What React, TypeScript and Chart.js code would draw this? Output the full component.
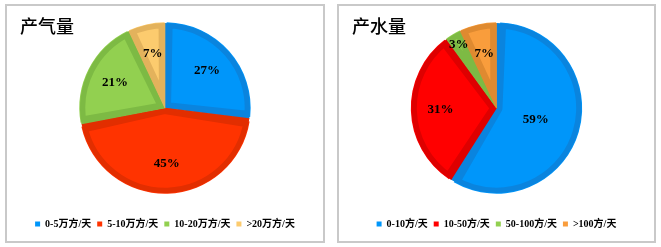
import React, { useEffect, useRef } from "react";
import { Chart, registerables } from "chart.js";

Chart.register(...registerables);

// ---- data ----
const gasTitle = "产气量";
const gasLabels = ["0-5万方/天", "5-10万方/天", "10-20万方/天", ">20万方/天"];
const gasValues = [27, 45, 21, 7];
const gasColors = ["#0096FA", "#FF3300", "#92D050", "#FCCB6E"];
const gasRims = ["#0A84DE", "#E22E00", "#7DBA44", "#E3B25C"];

const waterTitle = "产水量";
const waterLabels = ["0-10方/天", "10-50方/天", "50-100方/天", ">100方/天"];
const waterValues = [59, 31, 3, 7];
const waterColors = ["#0096FA", "#FF0000", "#92D050", "#F99D3C"];
const waterRims = ["#0A84DE", "#DE0000", "#7DBA44", "#DF8A30"];

const SERIF = "'Liberation Serif', 'Times New Roman', 'Noto Sans CJK SC', serif";

const pctLabelPlugin = {
  id: "pctLabels",
  afterDatasetsDraw(chart: any) {
    const ctx = chart.ctx;
    const ds = chart.data.datasets[0];
    const total = ds.data.reduce((a: number, b: number) => a + b, 0);
    const meta = chart.getDatasetMeta(0);
    ctx.save();
    ctx.font = `bold 13px ${SERIF}`;
    ctx.fillStyle = "#000";
    ctx.textAlign = "center";
    ctx.textBaseline = "middle";
    meta.data.forEach((arc: any, i: number) => {
      const p = arc.getProps(["x", "y", "startAngle", "endAngle", "outerRadius"], true);
      const frac = ds.data[i] / total;
      let f = 0.66;
      if (frac > 0.5) f = 0.48;
      else if (frac < 0.05) f = 0.87;
      const mid = (p.startAngle + p.endAngle) / 2;
      const r = p.outerRadius * f;
      ctx.fillText(Math.round(frac * 100) + "%", p.x + Math.cos(mid) * r, p.y + Math.sin(mid) * r);
    });
    ctx.restore();
  },
};

function PiePanel(props: {
  title: string;
  labels: string[];
  values: number[];
  colors: string[];
  rims: string[];
  left: number;
  width: number;
}) {
  const ref = useRef<HTMLCanvasElement>(null);
  useEffect(() => {
    const chart = new Chart(ref.current!, {
      type: "pie",
      data: {
        labels: props.labels,
        datasets: [
          {
            data: props.values,
            backgroundColor: props.colors,
            borderColor: props.rims,
            borderWidth: 6,
            borderAlign: "inner",
            spacing: 2,
          } as any,
        ],
      },
      options: {
        animation: false,
        responsive: false,
        layout: { padding: { top: 16, bottom: 2, left: 0, right: 0 } },
        plugins: {
          tooltip: { enabled: false },
          legend: {
            position: "bottom",
            title: { display: true, text: "", font: { size: 1, lineHeight: 1 }, padding: { top: 18, bottom: 0 } },
            labels: {
              boxWidth: 5,
              boxHeight: 5,
              padding: 6,
              color: "#000",
              font: { family: SERIF, size: 10, weight: "bold" },
              generateLabels: (c: any) =>
                (Chart as any).overrides.pie.plugins.legend.labels
                  .generateLabels(c)
                  .map((l: any) => ({ ...l, lineWidth: 0, strokeStyle: l.fillStyle })),
            },
          },
        },
      } as any,
      plugins: [pctLabelPlugin],
    });
    return () => chart.destroy();
  }, []);
  return (
    <div
      style={{
        position: "absolute",
        left: props.left,
        top: 4,
        width: props.width,
        height: 239,
        boxSizing: "border-box",
        border: "2px solid #C9C9C9",
        background: "#fff",
      }}
    >
      <canvas ref={ref} width={props.width - 4} height={235} style={{ display: "block" }} />
      <div
        style={{
          position: "absolute",
          left: 13,
          top: 9,
          fontFamily: "'Noto Sans CJK SC', sans-serif",
          fontSize: 18,
          lineHeight: "20px",
          fontWeight: 500,
          color: "#000",
        }}
      >
        {props.title}
      </div>
    </div>
  );
}

export default function App() {
  return (
    <div style={{ position: "fixed", left: 0, top: 0, width: 661, height: 247, background: "#fff" }}>
      <PiePanel title={gasTitle} labels={gasLabels} values={gasValues} colors={gasColors} rims={gasRims} left={5} width={320} />
      <PiePanel title={waterTitle} labels={waterLabels} values={waterValues} colors={waterColors} rims={waterRims} left={337} width={319} />
    </div>
  );
}
